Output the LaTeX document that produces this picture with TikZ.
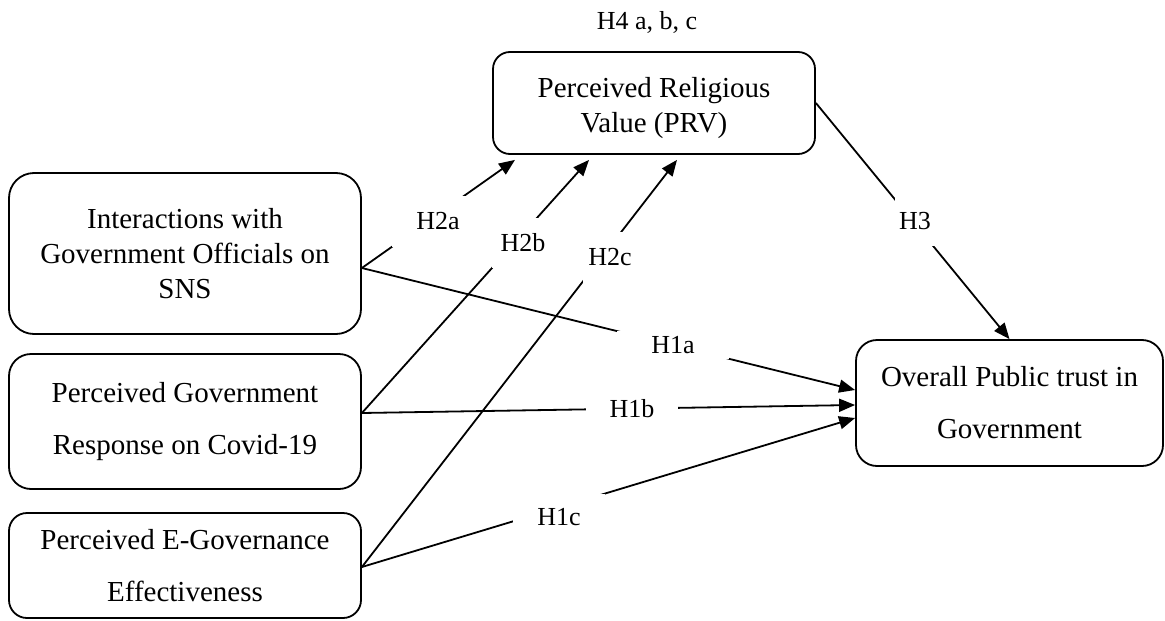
\documentclass[tikz,border=0pt]{standalone}
\usepackage{fontspec}
\setmainfont{Liberation Serif}
\usetikzlibrary{arrows.meta}
\tikzset{
  box/.style={draw, line width=1.8pt, align=center, inner sep=0pt, fill=white},
  single/.style={font=\fontsize{29}{35}\selectfont},
  wide/.style={font=\fontsize{29}{52}\selectfont},
  lbl/.style={fill=white, inner sep=0pt, font=\fontsize{26}{30}\selectfont},
  conn/.style={line width=1.8pt, -{Triangle[length=16pt,width=13pt]}},
}
\begin{document}
\begin{tikzpicture}[x=1pt,y=-1pt]
\useasboundingbox (0,0) rectangle (1165,621);
% boxes
\node[box, single, rounded corners=17pt, minimum width=322pt, minimum height=102pt] (prv) at (654,103) {\rule{0pt}{30pt}Perceived Religious\\Value (PRV)};
\node[lbl] (h4) at (647,22) {H4 a, b, c};
\node[box, single, rounded corners=25pt, minimum width=352pt, minimum height=161pt] (int) at (185,253.5) {Interactions with\\Government Officials on\\SNS};
\node[box, wide, rounded corners=22pt, minimum width=352pt, minimum height=135pt] (gov) at (185,421.5) {Perceived Government\\Response on Covid-19};
\node[box, wide, rounded corners=18pt, minimum width=352pt, minimum height=105pt] (eg) at (185,565.5) {Perceived E-Governance\\Effectiveness};
\node[box, wide, rounded corners=21pt, minimum width=307pt, minimum height=126pt] (ov) at (1009.5,403) {Overall Public trust in\\Government};
% connectors
\draw[conn] ([yshift=-14.5pt]int.east) -- ([xshift=-139pt,yshift=-5pt]prv.south);
\draw[conn] ([yshift=8.5pt]gov.east) -- ([xshift=-65pt,yshift=-5pt]prv.south);
\draw[conn] ([yshift=-1.5pt]eg.east) -- ([xshift=23pt,yshift=-5pt]prv.south);
\draw[conn] ([yshift=-14.5pt]int.east) -- ([yshift=13pt]ov.west);
\draw[conn] ([yshift=8.5pt]gov.east) -- ([yshift=-2pt]ov.west);
\draw[conn] ([yshift=-1.5pt]eg.east) -- ([yshift=-15pt]ov.west);
\draw[conn] (prv.east) -- (ov.north);
% labels
\node[lbl, minimum width=92pt, minimum height=51pt] (l2a) at (438,221.5) {H2a};
\node[lbl, minimum width=62pt, minimum height=50pt] (l2b) at (523,243) {H2b};
\node[lbl, minimum width=54pt, minimum height=51pt] (l2c) at (610,257.5) {H2c};
\node[lbl, minimum width=112pt, minimum height=28pt] (l1a) at (673,345) {H1a};
\node[lbl, minimum width=92pt, minimum height=34pt] (l1b) at (632,409) {H1b};
\node[lbl, minimum width=92pt, minimum height=46pt] (l1c) at (559,517) {H1c};
\node[lbl, minimum width=40pt, minimum height=49pt] (l3) at (915,221.5) {H3};
\end{tikzpicture}
\end{document}
